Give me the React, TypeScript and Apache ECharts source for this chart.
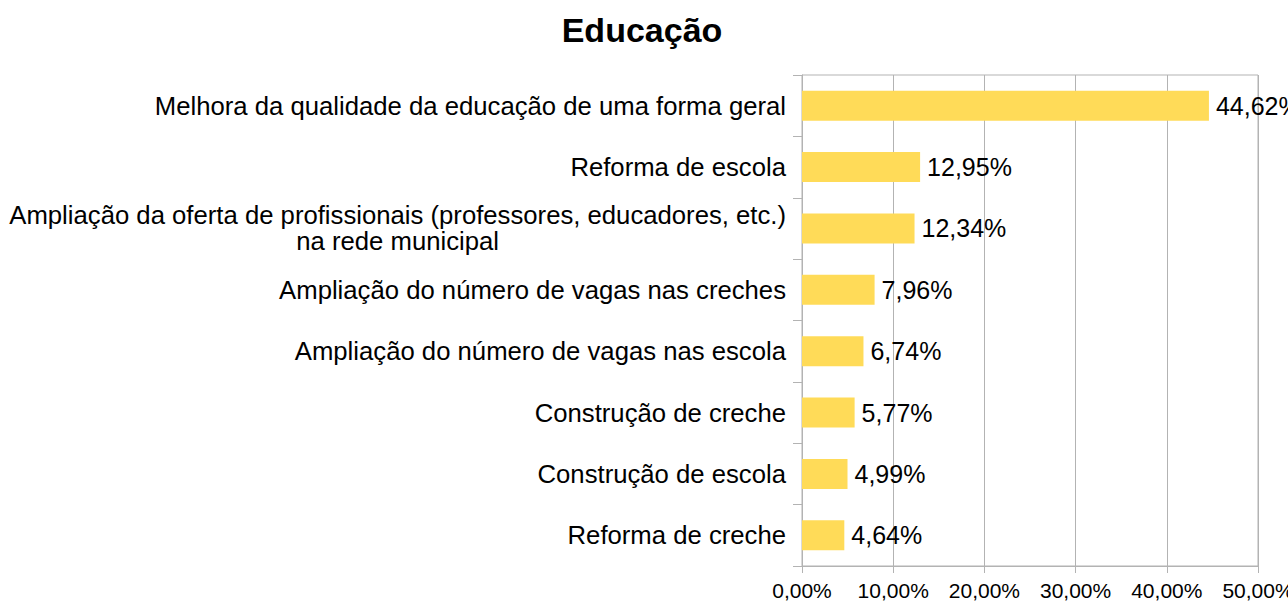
import React, { useEffect, useRef } from "react";
import * as echarts from "echarts";

const title = "Educação";
const categories = [
  "Melhora da qualidade da educação de uma forma geral",
  "Reforma de escola",
  "Ampliação da oferta de profissionais (professores, educadores, etc.)\nna rede municipal",
  "Ampliação do número de vagas nas creches",
  "Ampliação do número de vagas nas escola",
  "Construção de creche",
  "Construção de escola",
  "Reforma de creche",
];
const values = [44.62, 12.95, 12.34, 7.96, 6.74, 5.77, 4.99, 4.64];
const axisMin = 0;
const axisMax = 50;
const axisInterval = 10;

const fmt = (v: number) => v.toFixed(2).replace(".", ",") + "%";
const FONT = "Liberation Sans";
const GRAY = "#b3b3b3";

export default function App() {
  const ref = useRef<HTMLDivElement>(null);
  useEffect(() => {
    if (!ref.current) return;
    const chart = echarts.init(ref.current, undefined, { renderer: "svg" });
    chart.setOption({
      animation: false,
      backgroundColor: "#fff",
      title: {
        text: title,
        left: 637,
        textAlign: "center",
        top: 8,
        textStyle: { fontFamily: FONT, fontSize: 34, fontWeight: "bold", color: "#000" },
      },
      grid: {
        left: 802,
        right: 30,
        top: 75,
        bottom: 39,
        containLabel: false,
        outerBoundsMode: "none",
        show: true,
        borderColor: GRAY,
        borderWidth: 1,
      },
      xAxis: {
        type: "value",
        min: axisMin,
        max: axisMax,
        interval: axisInterval,
        axisLine: { show: true, lineStyle: { color: GRAY } },
        axisTick: { show: true, length: 7, lineStyle: { color: GRAY } },
        splitLine: { show: true, lineStyle: { color: GRAY } },
        axisLabel: {
          formatter: (v: number) => fmt(v),
          fontFamily: FONT,
          fontSize: 21,
          color: "#000",
          margin: 14,
        },
      },
      yAxis: {
        type: "category",
        inverse: true,
        data: categories,
        axisLine: { show: true, lineStyle: { color: GRAY } },
        axisTick: { show: true, length: 9, alignWithLabel: false, lineStyle: { color: GRAY } },
        axisLabel: {
          fontFamily: FONT,
          fontSize: 25.7,
          color: "#000",
          margin: 16,
          formatter: (v: string) =>
            v.includes("\n")
              ? v
                  .split("\n")
                  .map((l) => "{c|" + l + "}")
                  .join("\n")
              : v,
          rich: {
            c: { align: "center", fontFamily: FONT, fontSize: 25.7, color: "#000", lineHeight: 26 },
          },
        },
      },
      series: [
        {
          type: "bar",
          data: values,
          barWidth: 30,
          itemStyle: { color: "#ffdb58" },
          label: {
            show: true,
            position: "right",
            distance: 7,
            fontFamily: FONT,
            fontSize: 25,
            color: "#000",
            formatter: (p: any) => fmt(p.value),
          },
        },
      ],
    });
    return () => chart.dispose();
  }, []);
  return (
    <div
      ref={ref}
      style={{ position: "fixed", left: 0, top: 0, width: 1288, height: 605 }}
    />
  );
}
